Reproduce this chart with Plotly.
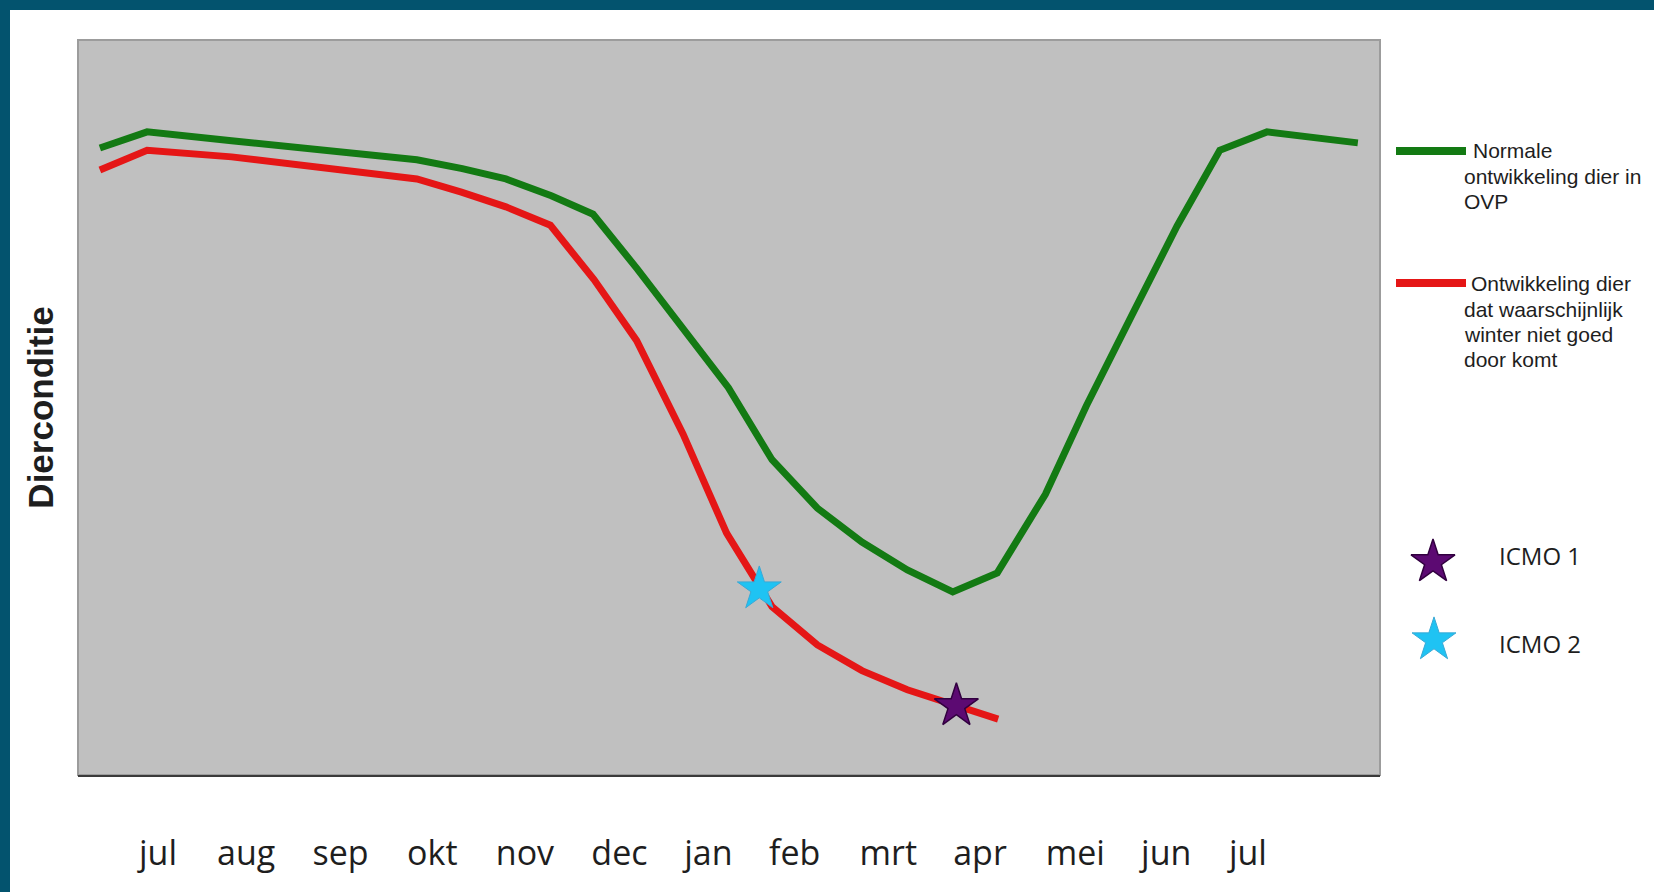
import plotly.graph_objects as go

# ---------------- data ----------------
MONTHS = ["jul", "aug", "sep", "okt", "nov", "dec", "jan", "feb", "mrt", "apr", "mei", "jun", "jul"]
MONTH_POS = [0.0, 0.97, 2.01, 3.02, 4.04, 5.08, 6.06, 7.01, 8.04, 9.05, 10.10, 11.10, 12.0]

NORMAL_X = [-0.64, -0.12, 0.81, 1.37, 1.86, 2.85, 3.35, 3.83, 4.33, 4.79, 5.28, 5.78, 6.28,
            6.76, 7.26, 7.75, 8.25, 8.75, 9.24, 9.77, 10.22, 10.72, 11.22, 11.69, 12.21, 13.21]
NORMAL_Y = [85.3, 87.5, 86.3, 85.6, 84.9, 83.7, 82.5, 81.1, 78.8, 76.3, 68.8, 60.8, 52.7,
            42.9, 36.3, 31.7, 27.9, 24.9, 27.5, 38.2, 50.2, 62.5, 74.7, 85.0, 87.5, 86.0]

POOR_X = [-0.64, -0.12, 0.81, 1.37, 1.86, 2.36, 2.85, 3.34, 3.83, 4.32, 4.80, 5.27, 5.78,
          6.26, 6.76, 7.26, 7.75, 8.25, 8.77, 9.25]
POOR_Y = [82.3, 85.0, 84.1, 83.3, 82.6, 81.9, 81.1, 79.3, 77.3, 74.8, 67.4, 59.1, 46.4,
          32.9, 22.9, 17.7, 14.2, 11.6, 9.4, 7.6]

ICMO1_X, ICMO1_Y = [8.79], [9.4]
ICMO2_X, ICMO2_Y = [6.62], [25.3]

NORMAL_NAME = "Normale ontwikkeling dier in OVP"
POOR_NAME = "Ontwikkeling dier dat waarschijnlijk winter niet goed door komt"

# ---------------- styling / layout constants ----------------
W, H = 1654, 892
ML, MR, MT, MB = 78, 0, 40, 117
PLOT_RIGHT = 1380
GREEN = "#137a13"
RED = "#e51616"
PURPLE = "#5c0a72"
CYAN = "#1fc3f3"
TEAL = "#03536e"
TEXT = "#1e1e1e"

paper_w = W - ML - MR
paper_h = H - MT - MB
x_split = (PLOT_RIGHT - ML) / paper_w


def px_to_paper_x(px):
    return (px - ML) / paper_w


def px_to_paper_y(py):
    return (H - MB - py) / paper_h


fig = go.Figure()

fig.add_trace(go.Scatter(x=NORMAL_X, y=NORMAL_Y, mode="lines", name=NORMAL_NAME,
                         line=dict(color=GREEN, width=7), showlegend=False))
fig.add_trace(go.Scatter(x=POOR_X, y=POOR_Y, mode="lines", name=POOR_NAME,
                         line=dict(color=RED, width=7), showlegend=False))
fig.add_trace(go.Scatter(x=ICMO2_X, y=ICMO2_Y, mode="markers", name="ICMO 2",
                         marker=dict(symbol="star", size=33, color=CYAN,
                                     line=dict(color="#39a9d6", width=1)), showlegend=False))
fig.add_trace(go.Scatter(x=ICMO1_X, y=ICMO1_Y, mode="markers", name="ICMO 1",
                         marker=dict(symbol="star", size=33, color=PURPLE,
                                     line=dict(color="#320040", width=1.5)), showlegend=False))

# ---------------- custom legend (on a pixel-scaled overlay axis) ----------------
fig.add_trace(go.Scatter(x=[1396, 1466], y=[151, 151], mode="lines", xaxis="x2", yaxis="y2",
                         line=dict(color=GREEN, width=8), showlegend=False, hoverinfo="skip"))
fig.add_trace(go.Scatter(x=[1396, 1466], y=[283, 283], mode="lines", xaxis="x2", yaxis="y2",
                         line=dict(color=RED, width=8), showlegend=False, hoverinfo="skip"))
fig.add_trace(go.Scatter(x=[1433], y=[562], mode="markers", xaxis="x2", yaxis="y2",
                         marker=dict(symbol="star", size=33, color=PURPLE,
                                     line=dict(color="#320040", width=1.5)),
                         showlegend=False, hoverinfo="skip"))
fig.add_trace(go.Scatter(x=[1434], y=[640], mode="markers", xaxis="x2", yaxis="y2",
                         marker=dict(symbol="star", size=33, color=CYAN,
                                     line=dict(color="#39a9d6", width=1)),
                         showlegend=False, hoverinfo="skip"))

legend_lines = [
    ("Normale", 1471, 150),
    ("ontwikkeling dier in", 1462, 176),
    ("OVP", 1462, 201),
    ("Ontwikkeling dier", 1469, 283),
    ("dat waarschijnlijk", 1462, 309),
    ("winter niet goed", 1462, 334),
    ("door komt", 1462, 359),
]
annotations = []
for txt, lx, ly in legend_lines:
    annotations.append(dict(text=txt, x=lx, y=ly, xref="x2", yref="y2", xanchor="left",
                            yanchor="middle", showarrow=False,
                            font=dict(family="Liberation Sans, Arial", size=21, color=TEXT)))
for txt, ly in [("ICMO 1", 555), ("ICMO 2", 643)]:
    annotations.append(dict(text=txt, x=1497, y=ly, xref="x2", yref="y2", xanchor="left",
                            yanchor="middle", showarrow=False,
                            font=dict(family="Open Sans", size=24, color=TEXT)))

shapes = [
    # plot area: grey fill with frame
    dict(type="rect", xref="x domain", yref="y domain", x0=0, x1=1, y0=0, y1=1,
         fillcolor="#c0c0c0", line=dict(color="#9c9c9c", width=2), layer="below"),
    # teal border, left and top
    dict(type="rect", xref="paper", yref="paper",
         x0=px_to_paper_x(0), x1=px_to_paper_x(10), y0=px_to_paper_y(H), y1=px_to_paper_y(0),
         fillcolor=TEAL, line=dict(width=0)),
    dict(type="rect", xref="paper", yref="paper",
         x0=px_to_paper_x(0), x1=px_to_paper_x(W), y0=px_to_paper_y(10), y1=px_to_paper_y(0),
         fillcolor=TEAL, line=dict(width=0)),
]

fig.update_layout(
    width=W, height=H, autosize=False,
    margin=dict(l=ML, r=MR, t=MT, b=MB, pad=0),
    paper_bgcolor="white",
    plot_bgcolor="white",
    showlegend=False,
    xaxis=dict(domain=[0, x_split], range=[-0.881, 13.454], tickvals=MONTH_POS, ticktext=MONTHS,
               ticks="", showgrid=False, zeroline=False, showline=True, linecolor="#3a3a3a",
               linewidth=2, tickfont=dict(family="Open Sans", size=34, color=TEXT),
               ticklabelstandoff=47, fixedrange=True),
    yaxis=dict(range=[0, 100], showticklabels=False, showgrid=False, zeroline=False,
               showline=False, ticks="",
               title=dict(text="<b>Dierconditie</b>", standoff=12,
                          font=dict(family="Liberation Sans, Arial", size=35, color=TEXT)),
               fixedrange=True),
    xaxis2=dict(domain=[x_split, 1], range=[PLOT_RIGHT, W], visible=False, anchor="y2",
                fixedrange=True),
    yaxis2=dict(domain=[0, 1], range=[H - MB, MT], visible=False, anchor="x2", fixedrange=True),
    annotations=annotations,
    shapes=shapes,
)

fig.write_html("out.html", config={"displayModeBar": False},
               post_script="document.body.style.margin='0';")
